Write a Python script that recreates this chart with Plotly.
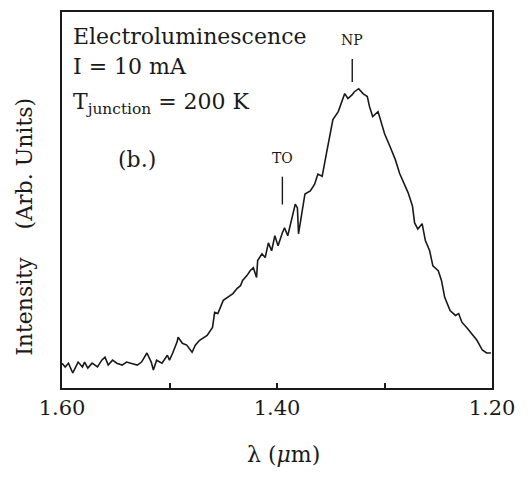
import plotly.graph_objects as go

# Wavelength (um) and electroluminescence intensity (arb. units, 0-100)
wavelength = [1.600, 1.597, 1.594, 1.590, 1.585, 1.581, 1.579, 1.576, 1.572, 1.567,
              1.563, 1.560, 1.557, 1.553, 1.549, 1.544, 1.540, 1.535, 1.530, 1.526,
              1.521, 1.517, 1.515, 1.512, 1.507, 1.502, 1.500, 1.497, 1.493, 1.492,
              1.488, 1.484, 1.479, 1.476, 1.472, 1.465, 1.460,
              1.458, 1.455, 1.450, 1.446, 1.441, 1.437, 1.434, 1.432, 1.428, 1.425,
              1.422, 1.419, 1.418, 1.414, 1.411, 1.408, 1.405, 1.402, 1.399, 1.395,
              1.393, 1.390, 1.386, 1.383, 1.381, 1.380, 1.377, 1.374, 1.369, 1.365,
              1.362, 1.358, 1.354, 1.348, 1.343, 1.340, 1.337, 1.334, 1.330, 1.328,
              1.324, 1.320, 1.316, 1.314, 1.311, 1.306, 1.302, 1.300, 1.295, 1.290,
              1.286, 1.281, 1.278, 1.274, 1.272, 1.269, 1.265,
              1.262, 1.258, 1.255, 1.250, 1.247, 1.244, 1.239, 1.234, 1.231, 1.228,
              1.223, 1.219, 1.214, 1.209, 1.205, 1.201]
intensity = [6.6, 5.6, 6.6, 4.0, 6.9, 5.6, 6.9, 5.3, 6.6, 5.6,
             7.4, 8.2, 6.1, 7.4, 6.6, 6.1, 6.9, 6.6, 6.1, 6.9,
             9.3, 6.9, 4.8, 7.4, 6.6, 8.7, 7.4, 9.3, 12.2, 13.5,
             11.9, 11.4, 9.5, 11.4, 12.7, 14.0, 16.1,
             20.1, 19.8, 23.3, 24.1, 25.1, 26.5, 27.2, 28.6, 29.9, 31.2,
             32.0, 29.4, 33.9, 35.7, 34.7, 38.6, 36.5, 40.5, 37.8, 41.3,
             42.6, 40.5, 45.2, 48.9, 47.9, 41.0, 46.3, 51.6, 52.4, 54.2,
             56.9, 56.3, 62.4, 71.4, 73.5, 75.7, 78.3, 77.0, 78.0, 78.8,
             79.6, 78.3, 77.5, 74.9, 72.2, 73.5, 69.6, 67.7, 64.3, 60.8,
             57.1, 53.7, 51.9, 48.4, 43.9, 42.3, 43.7,
             39.2, 36.5, 32.5, 31.2, 28.6, 24.1, 20.6, 19.3, 19.8, 17.5,
             15.9, 14.6, 12.7, 10.1, 9.3, 9.3]

tick_vals = [1.60, 1.40, 1.20]
tick_text = ["1.60", "1.40", "1.20"]
minor_tick_vals = [1.50, 1.40, 1.30]

peak_names = ["TO", "NP"]
peak_wavelengths = [1.395, 1.330]

SERIF = "DejaVu Serif"
INK = "#1a1a1a"

fig = go.Figure()
fig.add_trace(go.Scatter(x=wavelength, y=intensity, mode="lines",
                         line=dict(color=INK, width=1.6),
                         showlegend=False, hoverinfo="skip"))

# peak markers (label + vertical bar), y in paper coords
peak_bar = {"TO": (0.488, 0.562), "NP": (0.814, 0.875)}
peak_lab = {"TO": 0.611, "NP": 0.926}
for name, lam in zip(peak_names, peak_wavelengths):
    y0, y1 = peak_bar[name]
    fig.add_shape(type="line", xref="x", yref="paper", x0=lam, x1=lam, y0=y0, y1=y1,
                  line=dict(color=INK, width=1.4))
    fig.add_annotation(x=lam, xref="x", y=peak_lab[name], yref="paper", text=name,
                       showarrow=False, xanchor="center", yanchor="middle",
                       font=dict(family=SERIF, size=14, color=INK))

texts = [
    ("Electroluminescence", 0.022, 0.934),
    ("I&nbsp;=&nbsp;10 mA", 0.022, 0.854),
    ("T<sub>junction</sub>&nbsp;=&nbsp;200 K", 0.022, 0.757),
    ("(b.)", 0.125, 0.608),
]
for t, xp, yp in texts:
    fig.add_annotation(x=xp, xref="paper", y=yp, yref="paper", text=t, showarrow=False,
                       xanchor="left", yanchor="middle",
                       font=dict(family=SERIF, size=22, color=INK))

# axis titles
fig.add_annotation(x=-0.086, xref="paper", y=0.4286, yref="paper",
                   text="Intensity&nbsp;&nbsp;&nbsp;&nbsp;(Arb. Units)", textangle=-90,
                   showarrow=False, xanchor="center", yanchor="middle",
                   font=dict(family=SERIF, size=22, color=INK))
fig.add_annotation(x=0.514, xref="paper", y=-0.178, yref="paper",
                   text="λ (<i>μ</i>m)", showarrow=False, xanchor="center", yanchor="middle",
                   font=dict(family=SERIF, size=22, color=INK))

fig.update_xaxes(range=[1.60, 1.20], tickvals=tick_vals, ticktext=tick_text,
                 ticks="", ticklen=5,
                 minor=dict(tickvals=minor_tick_vals, ticks="inside", ticklen=5,
                            tickwidth=1.5, tickcolor=INK, showgrid=False),
                 showline=True, linecolor=INK, linewidth=2, mirror=True,
                 showgrid=False, zeroline=False,
                 tickfont=dict(family=SERIF, size=21, color=INK))
fig.update_yaxes(range=[0, 100], showticklabels=False, ticks="",
                 showline=True, linecolor=INK, linewidth=2, mirror=True,
                 showgrid=False, zeroline=False)

fig.update_layout(width=530, height=478, margin=dict(l=62, r=38, t=10, b=90),
                  paper_bgcolor="white", plot_bgcolor="white")

fig.write_html("out.html")
